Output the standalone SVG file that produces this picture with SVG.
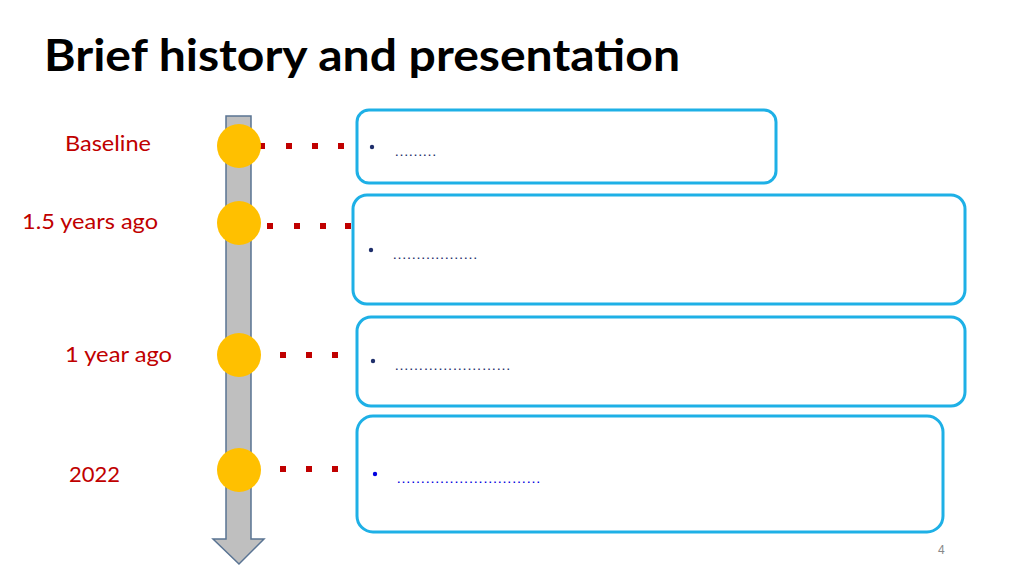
<svg xmlns="http://www.w3.org/2000/svg" width="1024" height="576" viewBox="0 0 1024 576">
<style>
.lbl{font-family:Lato,"Open Sans",sans-serif;font-size:21px;fill:#C00000}
.box{fill:#fff;stroke:#1EB0E6;stroke-width:3}
.dot{fill:#FFC000}
.sq{fill:#C00000}
.t{font-family:"Liberation Sans",Arial,sans-serif;font-size:15px;fill:#1F2F6B}
</style>
<rect width="1024" height="576" fill="#fff"/>
<text x="44" y="71" font-family="Lato,'Open Sans',sans-serif" font-weight="bold" font-size="44" fill="#000" textLength="636" lengthAdjust="spacingAndGlyphs">Brief history and presentation</text>
<g id="timeline">
<path d="M226,116 H251 V539 H264 L239,564 L213,539 H226 Z" fill="#BFBFBF" stroke="#5A7493" stroke-width="1.5"/>
</g>
<g id="connectors">
<rect class="sq" x="259" y="143" width="6" height="6"/><rect class="sq" x="286" y="143" width="6" height="6"/><rect class="sq" x="312" y="143" width="6" height="6"/><rect class="sq" x="338" y="143" width="6" height="6"/>
<rect class="sq" x="267" y="223" width="6" height="6"/><rect class="sq" x="294" y="223" width="6" height="6"/><rect class="sq" x="320" y="223" width="6" height="6"/><rect class="sq" x="345" y="223" width="6" height="6"/>
<rect class="sq" x="280" y="352" width="6" height="6"/><rect class="sq" x="306" y="352" width="6" height="6"/><rect class="sq" x="332" y="352" width="6" height="6"/>
<rect class="sq" x="280" y="466" width="6" height="6"/><rect class="sq" x="306" y="466" width="6" height="6"/><rect class="sq" x="332" y="466" width="6" height="6"/>
</g>
<g id="n1"><circle class="dot" cx="239" cy="146" r="22"/><text class="lbl" x="65" y="151" textLength="86" lengthAdjust="spacingAndGlyphs">Baseline</text>
<rect class="box" x="357" y="110" width="419" height="73" rx="12"/><circle cx="372" cy="147" r="2.2" fill="#1F2F6B"/><text class="t" x="394" y="156" textLength="43">………</text></g>
<g id="n2"><circle class="dot" cx="239" cy="223" r="22"/><text class="lbl" x="22" y="229" textLength="136" lengthAdjust="spacingAndGlyphs">1.5 years ago</text>
<rect class="box" x="353" y="195" width="612" height="109" rx="14"/><circle cx="371" cy="250" r="2.2" fill="#1F2F6B"/><text class="t" x="392" y="259" textLength="86">………………</text></g>
<g id="n3"><circle class="dot" cx="239" cy="355" r="22"/><text class="lbl" x="65" y="362" textLength="107" lengthAdjust="spacingAndGlyphs">1 year ago</text>
<rect class="box" x="357" y="317" width="608" height="89" rx="14"/><circle cx="373" cy="361" r="2.2" fill="#1F2F6B"/><text class="t" x="394" y="370" textLength="117">……………………</text></g>
<g id="n4"><circle class="dot" cx="239" cy="470" r="22"/><text class="lbl" x="69" y="482" textLength="51" lengthAdjust="spacingAndGlyphs">2022</text>
<rect class="box" x="357" y="416" width="586" height="116" rx="16"/><circle cx="375" cy="474" r="2.2" fill="#0000E0"/><text class="t" x="396" y="483" style="fill:#0000E0" textLength="145">…………………………</text></g>
<text x="938" y="554" font-family="Liberation Sans,Arial,sans-serif" font-size="12" fill="#888">4</text>
</svg>
